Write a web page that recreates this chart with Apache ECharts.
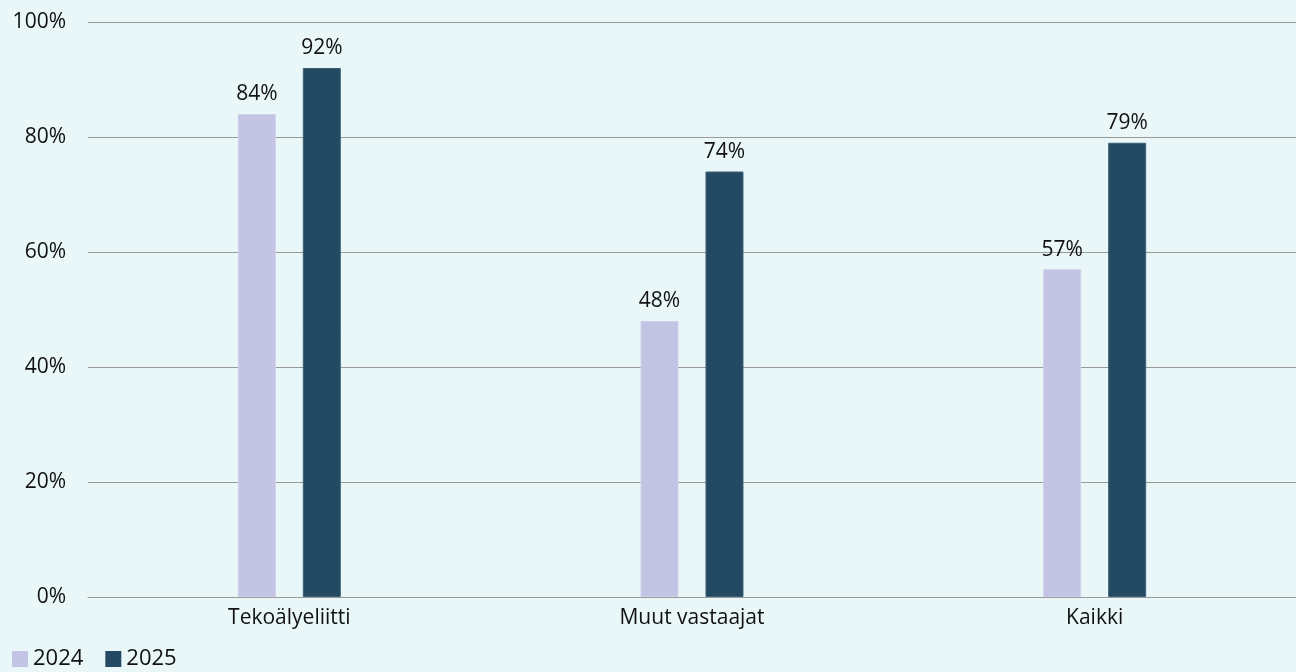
<!DOCTYPE html>
<html><head><meta charset="utf-8">
<script src="https://cdn.jsdelivr.net/npm/echarts@6/dist/echarts.min.js"></script>
<style>html,body{margin:0;padding:0;background:#e9f7f8;}#c{width:1296px;height:672px;}</style>
</head><body><div id="c"></div>
<script>
const categories = ['Tekoälyeliitti', 'Muut vastaajat', 'Kaikki'];
const series2024 = [84, 48, 57];
const series2025 = [92, 74, 79];
const yTicks = [0, 20, 40, 60, 80, 100];

const chart = echarts.init(document.getElementById('c'));
const font = '"Open Sans", "Noto Sans", sans-serif';
const labelStyle = {show: true, position: 'top', distance: 9, formatter: p => p.value + '%', color: '#111', fontSize: 21, fontFamily: font};
chart.setOption({
  backgroundColor: '#e9f7f8',
  animation: false,
  textStyle: {fontFamily: font},
  grid: {left: 88, right: 0, top: 22, bottom: 75, containLabel: false},
  legend: {
    left: 7, top: 643, itemWidth: 16, itemHeight: 16, itemGap: 22,
    icon: 'rect',
    itemStyle: {borderWidth: 0},
    textStyle: {fontSize: 22, color: '#111', fontFamily: font, padding: [6, 0, 0, 0]},
    data: ['2024', '2025']
  },
  xAxis: {
    type: 'category', data: categories,
    axisTick: {show: false},
    axisLine: {lineStyle: {color: '#9a9a9a', width: 1}},
    axisLabel: {color: '#111', fontSize: 21, margin: 11, fontFamily: font}
  },
  yAxis: {
    type: 'value', min: yTicks[0], max: yTicks[yTicks.length - 1], interval: 20,
    axisLabel: {color: '#111', fontSize: 21, margin: 22, formatter: v => v + '%', fontFamily: font},
    splitLine: {lineStyle: {color: '#9a9a9a', width: 1}},
    axisLine: {show: false}, axisTick: {show: false}
  },
  series: [
    {name: '2024', type: 'bar', data: series2024, barWidth: 38, barGap: '71%',
     itemStyle: {color: '#c3c4e4', borderColor: '#cfd0ea', borderWidth: 1}, label: labelStyle},
    {name: '2025', type: 'bar', data: series2025, barWidth: 38,
     itemStyle: {color: '#234a62', borderColor: '#3a6078', borderWidth: 1}, label: labelStyle}
  ]
});
</script></body></html>
